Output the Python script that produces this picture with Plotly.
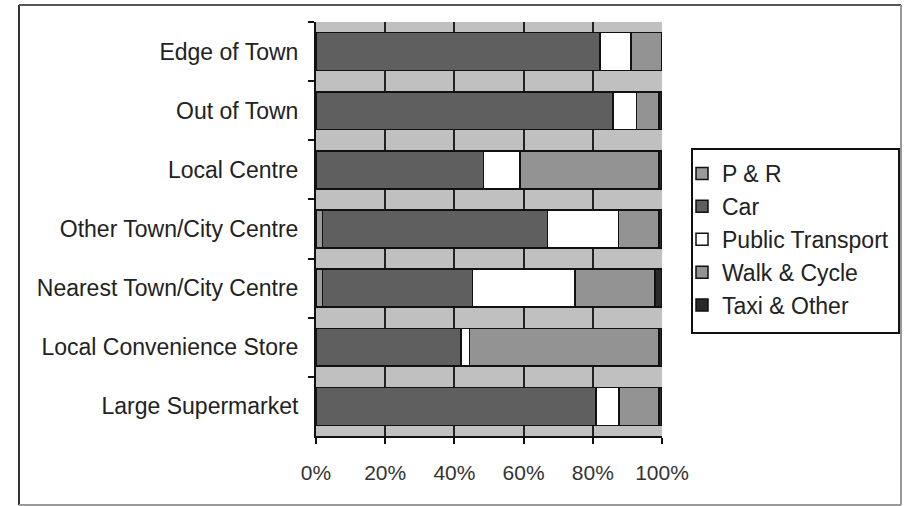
import plotly.graph_objects as go

categories = ["Edge of Town", "Out of Town", "Local Centre", "Other Town/City Centre",
              "Nearest Town/City Centre", "Local Convenience Store", "Large Supermarket"]
pr = [0, 0, 0, 1.9, 1.9, 0, 0]
car = [82.1, 85.9, 48.4, 65.0, 43.3, 41.9, 80.9]
pt = [8.9, 6.8, 10.6, 20.5, 29.7, 2.4, 6.7]
walk = [9.0, 6.5, 40.2, 11.8, 23.1, 54.9, 11.6]
taxi = [0, 0.8, 0.8, 0.8, 2.0, 0.8, 0.8]
series_names = ["P & R", "Car", "Public Transport", "Walk & Cycle", "Taxi & Other"]
series_values = [pr, car, pt, walk, taxi]
series_colors = ["#9a9a9a", "#5f5f5f", "#ffffff", "#939393", "#2a2a2a"]
x_tickvals = [0, 20, 40, 60, 80, 100]
x_ticktext = ["0%", "20%", "40%", "60%", "80%", "100%"]

FONT = "Arial, Liberation Sans, sans-serif"

fig = go.Figure()
for i, (name, vals, col) in enumerate(zip(series_names, series_values, series_colors)):
    fig.add_trace(go.Bar(
        y=categories, x=vals, name=name, orientation="h",
        marker=dict(color=col, line=dict(color="#111111", width=1.5)),
        legendgroup=f"g{i}",
    ))

W, H = 909, 506
L, R, T, B = 316, 247, 22, 70
pw, ph = W - L - R, H - T - B

def px(x):
    return (x - L) / pw

def py(y):
    return (H - B - y) / ph

fig.update_layout(
    width=W, height=H,
    margin=dict(l=L, r=R, t=T, b=B, autoexpand=False),
    barmode="stack", bargap=0.36,
    plot_bgcolor="#c0c0c0", paper_bgcolor="#ffffff",
    font=dict(family=FONT, size=23, color="#222222"),
    showlegend=True,
    legend=dict(
        x=px(682), y=py(152), xanchor="left", yanchor="top",
        borderwidth=0, bgcolor="rgba(0,0,0,0)",
        traceorder="grouped", tracegroupgap=0,
        font=dict(family=FONT, size=23, color="#222222"),
    ),
    xaxis=dict(
        range=[0, 100], tickvals=x_tickvals, ticktext=x_ticktext,
        showgrid=True, gridcolor="#222222", gridwidth=1.5,
        showline=True, linecolor="#111111", linewidth=2,
        ticks="outside", ticklen=6, tickcolor="#111111", tickwidth=1.5,
        ticklabelstandoff=11, zeroline=False,
        tickfont=dict(family=FONT, size=21, color="#333333"),
    ),
    yaxis=dict(
        autorange="reversed", type="category",
        showline=True, linecolor="#111111", linewidth=2,
        ticks="outside", ticklen=6, tickcolor="#111111", tickwidth=1.5,
        tickson="boundaries", showgrid=False, ticklabelstandoff=11,
        tickfont=dict(family=FONT, size=23, color="#222222"),
    ),
    shapes=[
        dict(type="rect", xref="paper", yref="paper", x0=px(692), x1=px(899), y0=py(149), y1=py(333),
             line=dict(color="#111111", width=2)),
        dict(type="line", xref="paper", yref="paper", x0=px(19), x1=px(19), y0=py(5), y1=py(505),
             line=dict(color="#333333", width=2)),
        dict(type="line", xref="paper", yref="paper", x0=px(19), x1=px(901), y0=py(5), y1=py(5),
             line=dict(color="#555555", width=2)),
        dict(type="line", xref="paper", yref="paper", x0=px(901), x1=px(901), y0=py(5), y1=py(505),
             line=dict(color="#999999", width=2)),
        dict(type="line", xref="paper", yref="paper", x0=px(19), x1=px(901), y0=py(505), y1=py(505),
             line=dict(color="#999999", width=2)),
    ],
)

fig.write_html("out.html")
